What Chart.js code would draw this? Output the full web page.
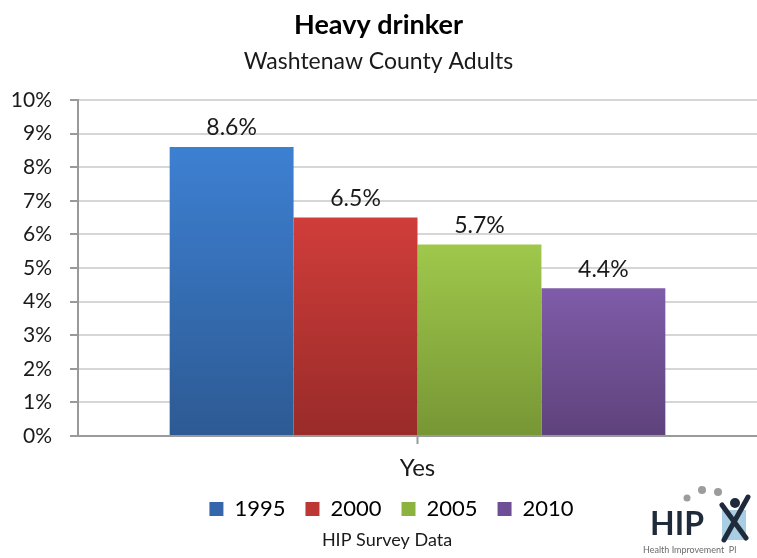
<!DOCTYPE html>
<html>
<head>
<meta charset="utf-8">
<title>Heavy drinker</title>
<script src="https://cdn.jsdelivr.net/npm/chart.js@4"></script>
<style>
  html, body { margin: 0; padding: 0; background: #fff; }
  #wrap { width: 757px; height: 558px; }
</style>
</head>
<body>
<div id="wrap"><canvas id="drinkChart"></canvas></div>
<script>
// survey values (percent of adults)
const categories = ['Yes'];
const years = ['1995', '2000', '2005', '2010'];
const heavyDrinker = [8.6, 6.5, 5.7, 4.4];
const yTicks = [0, 1, 2, 3, 4, 5, 6, 7, 8, 9, 10];

// top / bottom colours of each bar's fill, plus legend swatch
const barTop = ['#3d80d2', '#d03d3a', '#9fc84b', '#7f5ca9'];
const barBottom = ['#2d5a93', '#982b29', '#779635', '#5e427b'];
const swatch = ['#3566ab', '#bd3835', '#8cb33f', '#6e4f95'];

const FONT = 'Lato, "Open Sans", sans-serif';

function barGradient(i) {
  return function(ctx) {
    const chart = ctx.chart;
    const area = chart.chartArea;
    if (!area) return swatch[i];
    const top = chart.scales.y.getPixelForValue(heavyDrinker[i]);
    const g = chart.ctx.createLinearGradient(0, top, 0, area.bottom);
    g.addColorStop(0, barTop[i]);
    g.addColorStop(1, barBottom[i]);
    return g;
  };
}

// value printed above every bar
const valueLabels = {
  id: 'valueLabels',
  afterDatasetsDraw(chart) {
    const c = chart.ctx;
    c.save();
    c.font = '23px ' + FONT;
    c.fillStyle = '#1a1a1a';
    c.textAlign = 'center';
    c.textBaseline = 'middle';
    chart.data.datasets.forEach((ds, i) => {
      chart.getDatasetMeta(i).data.forEach((bar, j) => {
        c.fillText(ds.data[j].toFixed(1) + '%', bar.x, bar.y - 19);
      });
    });
    c.restore();
  }
};

// legend row sits a bit right of centre
const legendShift = {
  id: 'legendShift',
  afterLayout(chart) {
    chart.legend.left += 26;
  }
};

// source line and small logo along the bottom
const footer = {
  id: 'footer',
  afterDraw(chart) {
    const c = chart.ctx;
    c.save();
    c.font = '18px ' + FONT;
    c.fillStyle = '#1a1a1a';
    c.textAlign = 'center';
    c.textBaseline = 'middle';
    c.fillText('HIP Survey Data', 387, 540);

    // logo
    c.fillStyle = '#9c9c9c';
    [[687, 498, 3.5], [702, 490, 4], [718, 492, 4]].forEach(d => {
      c.beginPath(); c.arc(d[0], d[1], d[2], 0, Math.PI * 2); c.fill();
    });
    c.fillStyle = '#a9cde3';
    c.fillRect(722, 510, 24, 30);
    c.fillStyle = '#1f2a3a';
    c.font = 'bold 32px ' + FONT;
    c.textAlign = 'left';
    c.fillText('HIP', 650, 525);
    c.beginPath(); c.arc(735, 503, 5, 0, Math.PI * 2); c.fill();
    c.strokeStyle = '#1f2a3a';
    c.lineWidth = 5;
    c.lineCap = 'round';
    c.beginPath();
    c.moveTo(722, 505); c.lineTo(746, 538);
    c.moveTo(748, 497); c.lineTo(724, 540);
    c.stroke();
    c.font = '9px ' + FONT;
    c.fillStyle = '#6a6a6a';
    c.fillText('Health Improvement  Pl', 643, 550);
    c.restore();
  }
};

new Chart(document.getElementById('drinkChart').getContext('2d'), {
  type: 'bar',
  data: {
    labels: categories,
    datasets: years.map((y, i) => ({
      label: y,
      data: [heavyDrinker[i]],
      backgroundColor: barGradient(i),
      borderWidth: 0,
      categoryPercentage: 0.73,
      barPercentage: 1.0
    }))
  },
  options: {
    responsive: true,
    maintainAspectRatio: false,
    animation: false,
    layout: { padding: { left: 0, right: 0, top: 0, bottom: 28 } },
    plugins: {
      title: {
        display: true,
        text: 'Heavy drinker',
        color: '#000',
        font: { family: FONT, size: 27, weight: 'bold', lineHeight: 1.2 },
        padding: { top: 9, bottom: 6 }
      },
      subtitle: {
        display: true,
        text: 'Washtenaw County Adults',
        color: '#1a1a1a',
        font: { family: FONT, size: 23, lineHeight: 1.2 },
        padding: { top: 0, bottom: 25 }
      },
      legend: {
        position: 'bottom',
        labels: {
          color: '#1a1a1a',
          font: { family: FONT, size: 22 },
          boxWidth: 14,
          boxHeight: 14,
          padding: 20,
          generateLabels(chart) {
            return years.map((y, i) => ({
              text: y,
              fillStyle: swatch[i],
              strokeStyle: swatch[i],
              lineWidth: 0,
              datasetIndex: i
            }));
          }
        }
      },
      tooltip: { enabled: false }
    },
    scales: {
      x: {
        offset: true,
        afterFit(scale) { scale.height = 42; },
        grid: {
          offset: false,
          drawOnChartArea: false,
          tickLength: 8,
          tickColor: '#9a9a9a',
          tickWidth: 2
        },
        border: { color: '#9a9a9a', width: 2 },
        ticks: {
          color: '#1a1a1a',
          font: { family: FONT, size: 24, lineHeight: 1 },
          padding: 12
        }
      },
      y: {
        min: 0,
        max: 10,
        afterBuildTicks(scale) {
          scale.ticks = yTicks.map(v => ({ value: v }));
        },
        afterFit(scale) { scale.width = 78; },
        grid: {
          color: '#d6d6d6',
          lineWidth: 2,
          tickLength: 8,
          tickColor: '#9a9a9a',
          tickWidth: 2
        },
        border: { color: '#9a9a9a', width: 2 },
        ticks: {
          color: '#1a1a1a',
          font: { family: FONT, size: 21 },
          padding: 18,
          callback: v => v + '%'
        }
      }
    }
  },
  plugins: [legendShift, valueLabels, footer]
});
</script>
</body>
</html>
